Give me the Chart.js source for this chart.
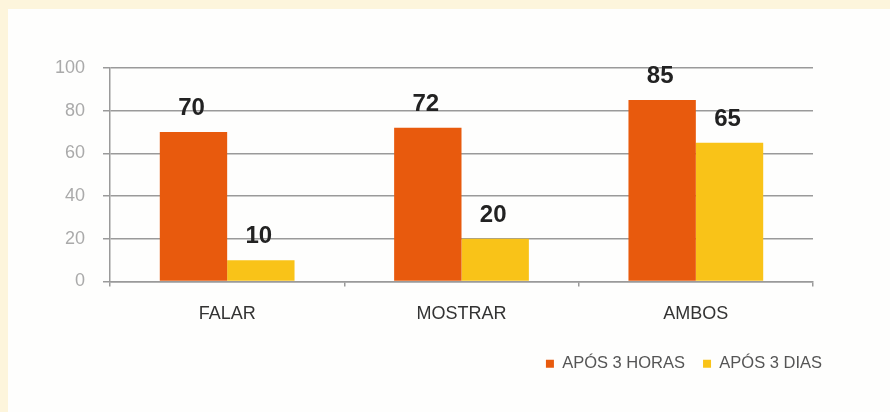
<!DOCTYPE html>
<html>
<head>
<meta charset="utf-8">
<script src="https://cdn.jsdelivr.net/npm/chart.js@4"></script>
<style>
  html, body { margin: 0; padding: 0; }
  body { width: 890px; height: 412px; background: #fdf5dc; position: relative; overflow: hidden; }
  #painel { position: absolute; left: 8px; top: 9px; width: 882px; height: 403px; background: #fefefd; }
  #grafico { position: absolute; left: 0; top: 0; }
</style>
</head>
<body>
<div id="painel"></div>
<canvas id="grafico" width="890" height="412"></canvas>
<script>
// dados do gráfico
const categorias = ['FALAR', 'MOSTRAR', 'AMBOS'];
const apos3Horas = [70, 72, 85];
const apos3Dias = [10, 20, 65];
const nomesSeries = ['APÓS 3 HORAS', 'APÓS 3 DIAS'];

const fonte = "'Liberation Sans', Arial, sans-serif";

// escreve o valor em cima de cada barra
const rotulosValores = {
    id: 'rotulosValores',
    afterDatasetsDraw(chart) {
        const ctx = chart.ctx;
        ctx.save();
        ctx.font = 'bold 24px ' + fonte;
        ctx.fillStyle = '#222222';
        ctx.textAlign = 'center';
        ctx.textBaseline = 'alphabetic';
        chart.data.datasets.forEach((dataset, i) => {
            chart.getDatasetMeta(i).data.forEach((barra, j) => {
                ctx.fillText(dataset.data[j], barra.x - 2, barra.y - 17);
            });
        });
        ctx.restore();
    }
};

const ctx = document.getElementById('grafico').getContext('2d');
const grafico = new Chart(ctx, {
    type: 'bar',
    data: {
        labels: categorias,
        datasets: [{
            label: nomesSeries[0],
            data: apos3Horas,
            backgroundColor: '#e85a0d',
            borderWidth: 0
        }, {
            label: nomesSeries[1],
            data: apos3Dias,
            backgroundColor: '#f9c318',
            borderWidth: 0
        }]
    },
    options: {
        responsive: false,
        animation: false,
        layout: {
            padding: { left: 0, right: 50, top: 68, bottom: 30 }
        },
        datasets: {
            bar: {
                categoryPercentage: 0.575,
                barPercentage: 1
            }
        },
        plugins: {
            legend: {
                position: 'bottom',
                align: 'end',
                labels: {
                    boxWidth: 8,
                    boxHeight: 8,
                    padding: 18,
                    color: '#555555',
                    font: { family: fonte, size: 16.5 }
                }
            },
            tooltip: { enabled: false }
        },
        scales: {
            y: {
                min: 0,
                max: 100,
                ticks: {
                    stepSize: 20,
                    color: '#aaaaaa',
                    padding: 18,
                    font: { family: fonte, size: 18 }
                },
                grid: {
                    color: '#9a9a9a',
                    lineWidth: 1.5,
                    tickLength: 7
                },
                border: { color: '#9a9a9a', width: 1.5 },
                afterFit: function(escala) {
                    escala.width = 110;
                }
            },
            // eixo vazio à direita, só para reservar espaço
            direita: {
                type: 'linear',
                position: 'right',
                grid: { display: false, drawTicks: false },
                ticks: { display: false },
                border: { display: false },
                afterFit: function(escala) {
                    escala.width = 27;
                }
            },
            x: {
                ticks: {
                    color: '#333333',
                    padding: 17,
                    font: { family: fonte, size: 18 }
                },
                grid: {
                    offset: true,
                    drawOnChartArea: false,
                    color: '#9a9a9a',
                    lineWidth: 1.5,
                    tickLength: 5
                },
                border: { color: '#9a9a9a', width: 1.5 },
                afterFit: function(escala) {
                    escala.height = 56;
                }
            }
        }
    },
    plugins: [rotulosValores]
});
</script>
</body>
</html>
